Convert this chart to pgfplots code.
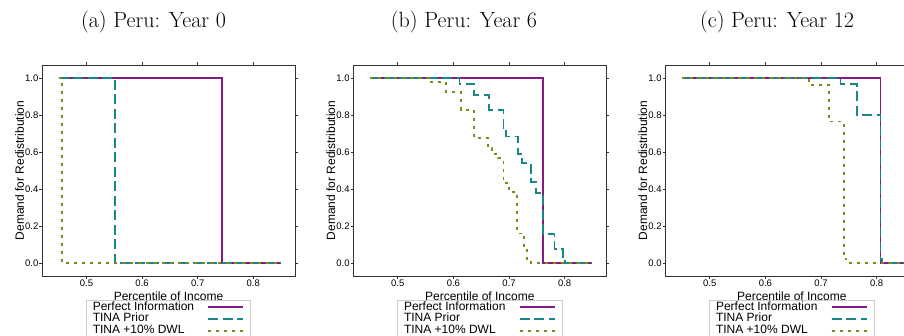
\documentclass[border=0pt]{standalone}
\usepackage{fontspec}
\setsansfont{Liberation Sans}
\usepackage{pgfplots}
\pgfplotsset{compat=1.18}
\definecolor{cpurple}{RGB}{135,25,135}
\definecolor{cteal}{RGB}{25,135,135}
\definecolor{colive}{RGB}{135,135,25}
\pgfplotsset{
 peru/.style={
  scale only axis, width=253pt, height=211pt,
  anchor=south west,
  xmin=0.42, xmax=0.875, ymin=-0.07, ymax=1.07,
  xtick={0.5,0.6,0.7,0.8}, ytick={0,0.2,0.4,0.6,0.8,1.0},
  tick align=outside, major tick length=2.5pt,
  tick style={black!80, line width=0.6pt},
  axis line style={black!80, line width=0.8pt},
  /pgf/number format/fixed, /pgf/number format/fixed zerofill,
  /pgf/number format/precision=1, /pgf/number format/assume math mode=true,
  tick label style={font=\sffamily\fontsize{9.5}{10}\selectfont, inner sep=1pt},
  xlabel={Percentile of Income}, ylabel={Demand for Redistribution},
  label style={font=\sffamily\fontsize{12}{14}\selectfont},
  xlabel style={at={(axis description cs:0.5,-0.098)}, anchor=center},
  ylabel style={at={(axis description cs:-0.089,0.5)}, anchor=center},
  legend style={at={(axis description cs:0.5,-0.1137)}, anchor=north,
    draw=black!20, line width=0.8pt, fill=white,
    font=\sffamily\fontsize{12}{12}\selectfont,
    inner xsep=6.5pt, inner ysep=1pt, row sep=0pt, column sep=13.3pt,
    nodes={inner sep=0pt, text height=8.7pt, text depth=3pt}},
  legend cell align=left, legend plot pos=right,
  legend image code/.code={\draw[#1] (0pt,0pt) -- (35pt,0pt);},
 },
 pinfo/.style={color=cpurple, line width=1.8pt, solid},
 tprior/.style={color=cteal, line width=1.8pt, dash pattern=on 10pt off 4.5pt},
 tdwl/.style={color=colive, line width=1.8pt, dash pattern=on 3pt off 5pt},
}
\begin{document}
\begin{tikzpicture}
\useasboundingbox (0,0) rectangle (904pt,335pt);
% titles
\node[anchor=base, font=\fontsize{22}{26}\selectfont] at (153.5pt,307.3pt) {(a) Peru: Year 0};
\node[anchor=base, font=\fontsize{22}{26}\selectfont] at (464pt,307.3pt) {(b) Peru: Year 6};
\node[anchor=base, font=\fontsize{22}{26}\selectfont] at (777pt,307.3pt) {(c) Peru: Year 12};
% panel a
\begin{axis}[peru, at={(42pt,59pt)}]
\addplot[pinfo] coordinates {(0.45,1) (0.743,1) (0.743,0) (0.85,0)};
\addplot[tprior] coordinates {(0.45,1) (0.551,1) (0.551,0) (0.85,0)};
\addplot[tdwl] coordinates {(0.45,1) (0.456,1) (0.456,0) (0.85,0)};
\legend{Perfect Information, TINA Prior, TINA +10\% DWL}
\end{axis}
% panel b
\begin{axis}[peru, at={(353.3pt,59pt)}]
\addplot[pinfo] coordinates {(0.45,1) (0.761,1) (0.761,0) (0.85,0)};
\addplot[tprior] coordinates {(0.45,1) (0.611,1) (0.611,0.968) (0.637,0.968) (0.637,0.910) (0.664,0.910) (0.664,0.828) (0.690,0.828) (0.690,0.724) (0.695,0.724) (0.695,0.684) (0.716,0.684) (0.716,0.59) (0.723,0.59) (0.723,0.54) (0.739,0.54) (0.739,0.44) (0.748,0.44) (0.748,0.38) (0.761,0.38) (0.761,0.158) (0.782,0.158) (0.782,0.075) (0.797,0.075) (0.797,0.01) (0.80,0.01) (0.80,0) (0.85,0)};
\addplot[tdwl] coordinates {(0.45,1) (0.556,1) (0.556,0.978) (0.586,0.978) (0.586,0.925) (0.613,0.925) (0.613,0.828) (0.637,0.828) (0.637,0.675) (0.662,0.675) (0.662,0.62) (0.670,0.62) (0.670,0.59) (0.680,0.59) (0.680,0.567) (0.690,0.567) (0.690,0.431) (0.700,0.431) (0.700,0.386) (0.714,0.386) (0.714,0.16) (0.727,0.16) (0.727,0.08) (0.733,0.08) (0.733,0.02) (0.739,0.02) (0.739,0) (0.85,0)};
\legend{Perfect Information, TINA Prior, TINA +10\% DWL}
\end{axis}
% panel c
\begin{axis}[peru, at={(665.3pt,59pt)}]
\addplot[pinfo] coordinates {(0.45,1) (0.807,1) (0.807,0) (0.85,0)};
\addplot[tprior] coordinates {(0.45,1) (0.735,1) (0.735,0.966) (0.765,0.966) (0.765,0.80) (0.807,0.80) (0.807,0.02) (0.81,0.02) (0.81,0) (0.85,0)};
\addplot[tdwl] coordinates {(0.45,1) (0.679,1) (0.679,0.962) (0.714,0.962) (0.714,0.765) (0.741,0.765) (0.741,0.02) (0.746,0.02) (0.746,0) (0.85,0)};
\legend{Perfect Information, TINA Prior, TINA +10\% DWL}
\end{axis}
\end{tikzpicture}
\end{document}
